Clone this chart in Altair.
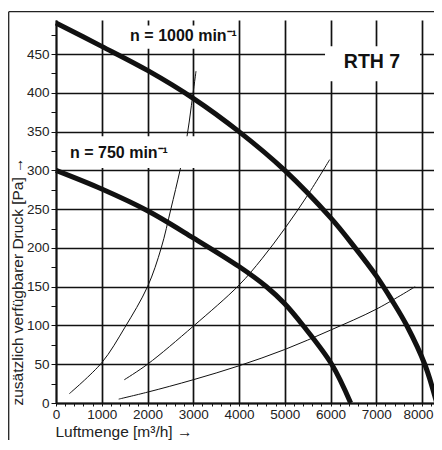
import altair as alt
import pandas as pd

# ---- data ----
# fan curves (flow m3/h, pressure Pa)
q_1000 = [0, 1000, 2000, 3000, 4000, 5000, 6000, 6500, 7000, 7338, 7666, 8066, 8321]
p_1000 = [490, 460, 429, 393, 350, 300, 239, 203, 164, 133, 100, 49, 0]
q_750 = [0, 1000, 2000, 3000, 4000, 4600, 5000, 5400, 6026, 6441]
p_750 = [300, 276, 248, 213, 176, 150, 128, 100, 50, 0]
# system curves (thin)
q_sysA = [291, 1000, 1500, 2000, 2300, 2510, 2710, 2856, 2960, 3060]
p_sysA = [12, 52, 97, 150, 200, 250, 300, 341, 384, 428]
q_sysB = [1493, 2000, 3000, 4000, 4500, 5000, 5500, 5983]
p_sysB = [30, 50, 99, 152, 186, 225, 268, 314]
q_sysC = [1370, 2000, 3000, 4000, 5000, 6000, 7000, 7850]
p_sysC = [5, 14, 30, 48, 69, 94, 121, 150]

x_ticks = list(range(0, 8201, 200))
y_ticks = list(range(0, 476, 25))

labels_text = ["n = 1000 min\u207b\u00b9", "n = 750 min\u207b\u00b9"]
labels_q = [1620, 306]
labels_p = [473, 322]
type_text = ["RTH 7"]
type_q = [6907]
type_p = [440]

# white boxes behind the labels (data units)
box_q1 = [1560, 40, 5880]
box_q2 = [3900, 3050, 7956]
box_p1 = [457, 303, 415]
box_p2 = [487, 344, 460]

X_MAX = 8262
Y_MAX = 494
FONT = "Liberation Sans, Arial, sans-serif"

rows = []
for name, qs, ps in [("n1000", q_1000, p_1000), ("n750", q_750, p_750),
                     ("A", q_sysA, p_sysA), ("B", q_sysB, p_sysB), ("C", q_sysC, p_sysC)]:
    for q, p in zip(qs, ps):
        rows.append({"q": q, "p": p, "series": name,
                     "w": 5 if name.startswith("n") else 1})
curves = pd.DataFrame(rows)

xscale = alt.Scale(domain=[0, X_MAX], nice=False, zero=True)
yscale = alt.Scale(domain=[0, Y_MAX], nice=False, zero=True)

x_axis = alt.Axis(
    values=x_ticks, tickCount=500, format="d",
    labelExpr="datum.value % 1000 === 0 ? datum.label : ''",
    labelOffset={"condition": {"test": "datum.value === 8000", "value": -4}, "value": 0},
    grid=True, gridColor="#111", gridWidth=1.7,
    gridOpacity={"condition": {"test": "datum.value % 1000 === 0", "value": 1}, "value": 0},
    tickSize=3, tickColor="#111", tickWidth=1,
    domainColor="#111", domainWidth=1.8,
    labelFont=FONT, labelFontSize=13.5, labelColor="#222", labelPadding=1,
    labelFlush=False, labelOverlap=False,
    title="Luftmenge [m\u00b3/h]  \u2192", titleFont=FONT, titleFontSize=15.5,
    titleFontWeight="normal", titleColor="#222",
    titleAnchor="start", titleAlign="left", titleBaseline="alphabetic",
    titleX=-1, titleY=33.5,
)
y_axis = alt.Axis(
    values=y_ticks, tickCount=500, format="d",
    labelExpr="datum.value % 50 === 0 ? datum.label : ''",
    grid=True, gridColor="#111", gridWidth=1.7,
    gridOpacity={"condition": {"test": "datum.value % 50 === 0", "value": 1}, "value": 0},
    tickSize=5, tickColor="#111", tickWidth=1,
    domainColor="#111", domainWidth=1.8,
    labelFont=FONT, labelFontSize=13.5, labelColor="#222", labelPadding=2,
    labelFlush=False, labelOverlap=False,
    title="zus\u00e4tzlich verf\u00fcgbarer Druck [Pa] \u2192", titleFont=FONT,
    titleFontSize=15.5, titleFontWeight="normal", titleColor="#222",
    titleAngle=270, titleAlign="left", titleBaseline="alphabetic",
    titleX=-34, titleY=385,
)

lines = alt.Chart(curves).mark_line(interpolate="catmull-rom", color="#111",
                                    strokeCap="butt").encode(
    x=alt.X("q:Q", scale=xscale, axis=x_axis),
    y=alt.Y("p:Q", scale=yscale, axis=y_axis),
    detail="series:N",
    strokeWidth=alt.StrokeWidth("w:Q", scale=None, legend=None),
)

boxes = alt.Chart(pd.DataFrame({"q1": box_q1, "q2": box_q2, "p1": box_p1, "p2": box_p2})
                  ).mark_rect(color="white").encode(
    x=alt.X("q1:Q", scale=xscale), x2="q2",
    y=alt.Y("p1:Q", scale=yscale), y2="p2",
)

speed_labels = alt.Chart(pd.DataFrame({"q": labels_q, "p": labels_p, "t": labels_text})
                         ).mark_text(align="left", baseline="middle", font=FONT,
                                     fontWeight="bold", fontSize=16, color="#111").encode(
    x=alt.X("q:Q", scale=xscale), y=alt.Y("p:Q", scale=yscale), text="t:N")

type_label = alt.Chart(pd.DataFrame({"q": type_q, "p": type_p, "t": type_text})
                       ).mark_text(align="center", baseline="middle", font=FONT,
                                   fontWeight="bold", fontSize=19.5, color="#111").encode(
    x=alt.X("q:Q", scale=xscale), y=alt.Y("p:Q", scale=yscale), text="t:N")

frame_left = alt.Chart(pd.DataFrame({"a": [0]})).mark_rule(color="#222", strokeWidth=1.3).encode(
    x=alt.value(-47.3), y=alt.value(-8.3), y2=alt.value(425))
frame_top = alt.Chart(pd.DataFrame({"a": [0]})).mark_rule(color="#222", strokeWidth=1.3).encode(
    x=alt.value(-47.3), x2=alt.value(400), y=alt.value(-8.3))

chart = alt.layer(lines, boxes, speed_labels, type_label, frame_left, frame_top).properties(
    width=378, height=383,
    autosize=alt.AutoSizeParams(type="none"),
    padding={"left": 48, "top": 12, "right": 0, "bottom": 37},
    background="white",
).configure_view(strokeWidth=0)

chart.save("out.html", embed_options={"renderer": "svg", "actions": False})
